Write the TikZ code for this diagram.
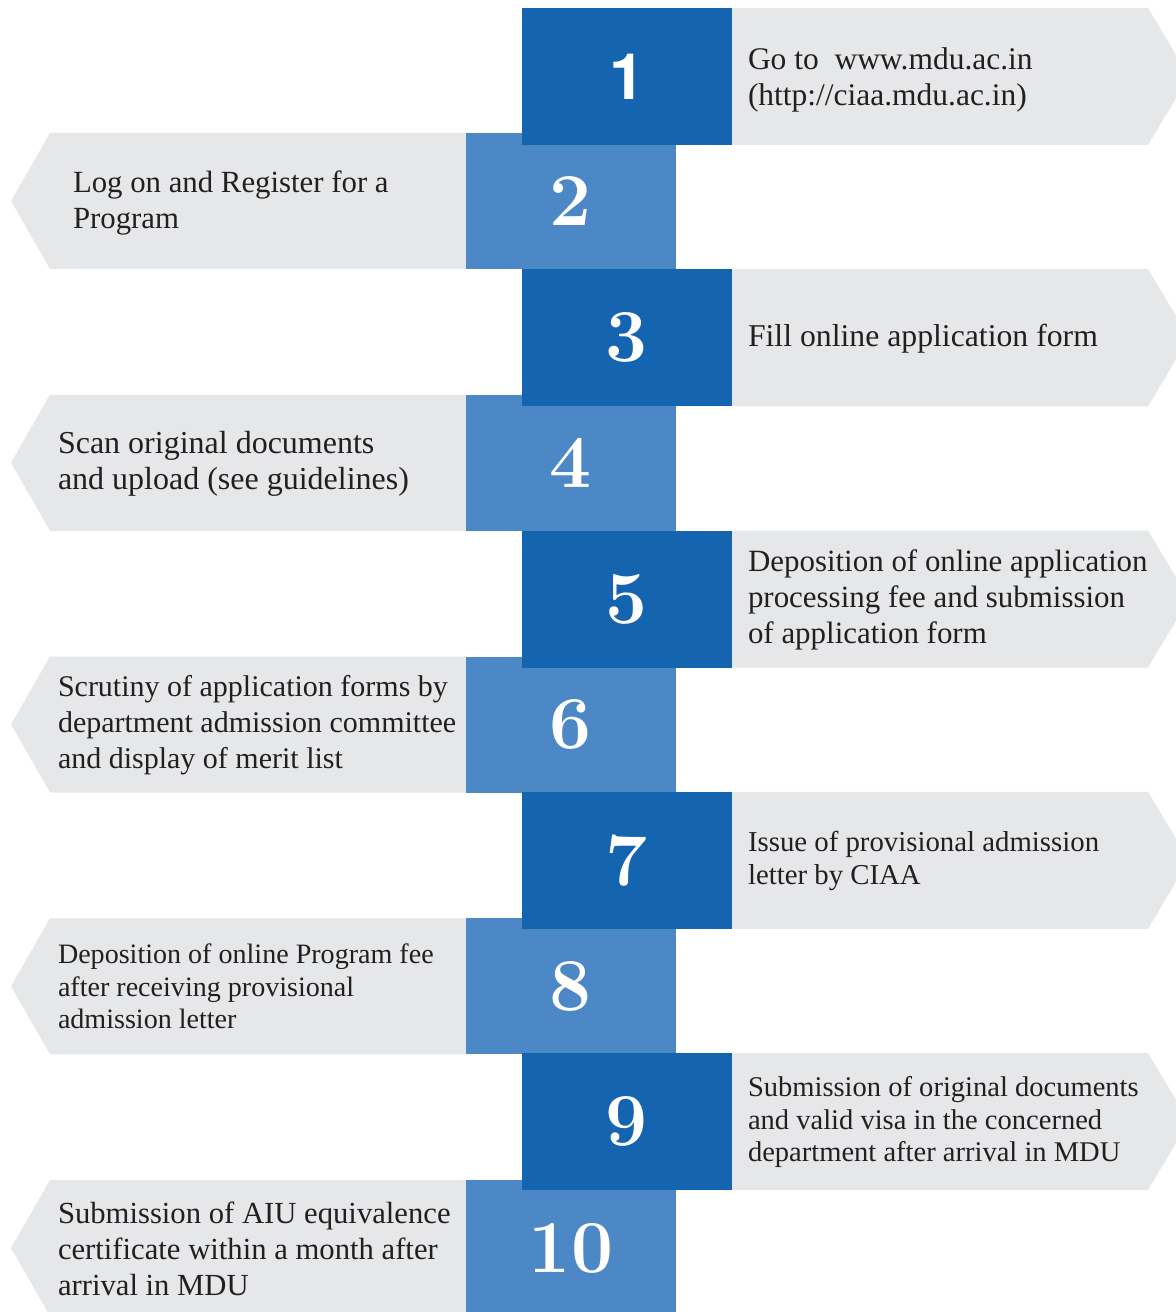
\documentclass[tikz,border=0pt]{standalone}
\usepackage{fontspec}
\newfontfamily\txtfont{Liberation Serif}
\newfontfamily\numsans{TeX Gyre Heros}
\definecolor{darkblue}{HTML}{1464B0}
\definecolor{lightblue}{HTML}{4D88C6}
\definecolor{panel}{HTML}{E6E7E8}
\definecolor{ink}{HTML}{231F20}
\pgfdeclarelayer{bg}
\pgfsetlayers{bg,main}
\begin{document}
\begin{tikzpicture}[x=0.75pt,y=-0.75pt,
  numbox/.style={inner sep=0pt, outer sep=0pt, anchor=north west,
    minimum width=157.5pt, text=white,
    font=\fontsize{56}{56}\selectfont\bfseries},
  darkbox/.style={numbox, fill=darkblue, minimum height=102.75pt},
  lightbox/.style={numbox, fill=lightblue, minimum height=102pt},
  txtA/.style={anchor=west, align=left, inner sep=0pt, outer sep=0pt, text=ink,
    font=\txtfont\fontsize{23.6}{27}\selectfont},
  txtB/.style={txtA, font=\txtfont\fontsize{22.5}{27}\selectfont},
  txtC/.style={txtA, font=\txtfont\fontsize{21.4}{24.4}\selectfont},
  rightpanel/.style={fill=panel},
  leftpanel/.style={fill=panel}]
\useasboundingbox (0,0) rectangle (1176,1312);
\clip (0,0) rectangle (1176,1312);

% light (even) boxes
\node[lightbox] (b2)  at (466,133)    {2};
\node[lightbox] (b4)  at (466,394.75) {4};
\node[lightbox] (b6)  at (466,656.5)  {6};
\node[lightbox] (b8)  at (466,918.25) {8};
\node[lightbox] (b10) at (466,1180)   {10};

% dark (odd) boxes, on top
\node[darkbox] (b1) at (522,8) {\numsans\bfseries\fontsize{48}{48}\selectfont 1};
\node[darkbox] (b3) at (522,269.25) {3};
\node[darkbox] (b5) at (522,530.5)  {5};
\node[darkbox] (b7) at (522,791.75) {7};
\node[darkbox] (b9) at (522,1053)   {9};

% grey panels behind
\begin{pgfonlayer}{bg}
  \foreach \b in {b1,b3,b5,b7,b9}{
    \fill[rightpanel] (\b.north east) -- ++(416,0) -- ++(41,68.5) -- ++(-41,68.5)
      -- (\b.south east) -- cycle;
  }
  \foreach \b in {b2,b4,b6,b8,b10}{
    \fill[leftpanel] (\b.north west) -- ++(-416,0) -- ++(-39,68) -- ++(39,68)
      -- (\b.south west) -- cycle;
  }
\end{pgfonlayer}

% texts
\node[txtA] (t1) at (748,80) {Go to\ \ www.mdu.ac.in\\(http://ciaa.mdu.ac.in)};
\node[txtA, font=\txtfont\fontsize{23.1}{27}\selectfont] (t2) at (73,203) {Log on and Register for a\\Program};
\node[txtA, font=\txtfont\fontsize{23.8}{27}\selectfont] (t3) at (748,338.75) {Fill online application form};
\node[txtA, font=\txtfont\fontsize{24}{27}\selectfont] (t4) at (58,463.5) {Scan original documents\\and upload (see guidelines)};
\node[txtA, font=\txtfont\fontsize{23.2}{27}\selectfont] (t5) at (748,600) {Deposition of online application\\processing fee and submission\\of application form};
\node[txtB] (t6) at (58,725) {Scrutiny of application forms by\\department admission committee\\and display of merit list};
\node[txtC, font=\txtfont\fontsize{21.6}{24.4}\selectfont] (t7) at (748,861) {Issue of provisional admission\\letter by CIAA};
\node[txtC, font=\txtfont\fontsize{21.05}{24.4}\selectfont] (t8) at (58,986.5) {Deposition of online Program fee\\after receiving provisional\\admission letter};
\node[txtC] (t9) at (748,1122) {Submission of original documents\\and valid visa in the concerned\\department after arrival in MDU};
\node[txtB, font=\txtfont\fontsize{23}{27}\selectfont] (t10) at (58,1249) {Submission of AIU equivalence\\certificate within a month after\\arrival in MDU};
\end{tikzpicture}
\end{document}
